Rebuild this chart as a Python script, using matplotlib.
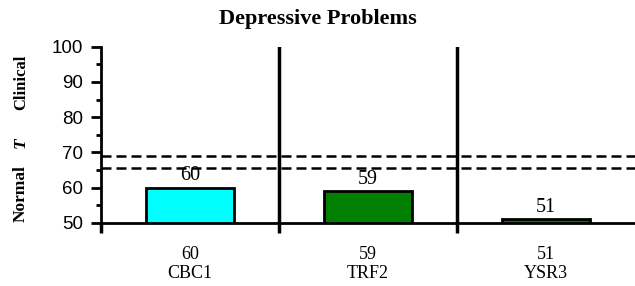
from matplotlib import pyplot as plt
import matplotlib as mpl
import numpy as np

mpl.rc('font', family='Liberation Serif')

title = "Depressive Problems"
forms = ["CBC1", "TRF2", "YSR3"]
scores = [60, 59, 51]
colors = ["#00ffff", "#008000", "#008000"]
borderline = [65.5, 69]

fig = plt.figure(figsize=(6.35, 2.86), dpi=100)
ax = fig.add_axes([101/635, 1 - 222.7/286, 534/635, 176/286])

x = np.arange(len(forms)) + 0.5
ax.bar(x, np.array(scores) - 50, bottom=50, width=0.49, color=colors,
       edgecolor='black', linewidth=2, zorder=3)
for xi, s in zip(x, scores):
    ax.text(xi, s + 0.6, str(s), ha='center', va='bottom', fontsize=14.5)

for b in borderline:
    ax.axhline(b, color='black', linestyle=(0, (4, 2)), linewidth=1.8, zorder=2)
for sep in range(1, len(forms)):
    ax.axvline(sep, color='black', linewidth=2.5, zorder=4)

ax.set_xlim(0, len(forms))
ax.set_ylim(50, 100)
ax.set_yticks(np.arange(50, 101, 10))
ax.set_yticks(np.arange(55, 100, 10), minor=True)
ax.set_yticklabels([str(v) for v in range(50, 101, 10)], family='Liberation Sans', fontsize=13.5)
ax.set_xticks(range(len(forms)))
ax.set_xticklabels([])
ax.tick_params(axis='y', which='major', direction='out', length=7, width=2, pad=6)
ax.tick_params(axis='y', which='minor', direction='out', length=3.6, width=2)
ax.tick_params(axis='x', direction='out', length=7, width=2.5)
for side in ['top', 'right']:
    ax.spines[side].set_visible(False)
for side in ['left', 'bottom']:
    ax.spines[side].set_linewidth(2)

for xi, f, s in zip(x, forms, scores):
    ax.text(xi, -0.13, f"{s}\n{f}", transform=ax.get_xaxis_transform(),
            ha='center', va='top', fontsize=13, linespacing=1.15)

fig.text(0.5, 1 - 19/286, title, ha='center', va='center', fontsize=16, fontweight='bold')
fig.text(21/635, 1 - 194/286, "Normal", rotation=90, ha='center', va='center', fontsize=12.5, fontweight='bold')
fig.text(21/635, 1 - 143/286, "T", rotation=90, ha='center', va='center', fontsize=12.5, fontweight='bold', style='italic')
fig.text(21/635, 1 - 82/286, "Clinical", rotation=90, ha='center', va='center', fontsize=12, fontweight='bold')

fig.savefig("out.png", dpi=100)
plt.close()
